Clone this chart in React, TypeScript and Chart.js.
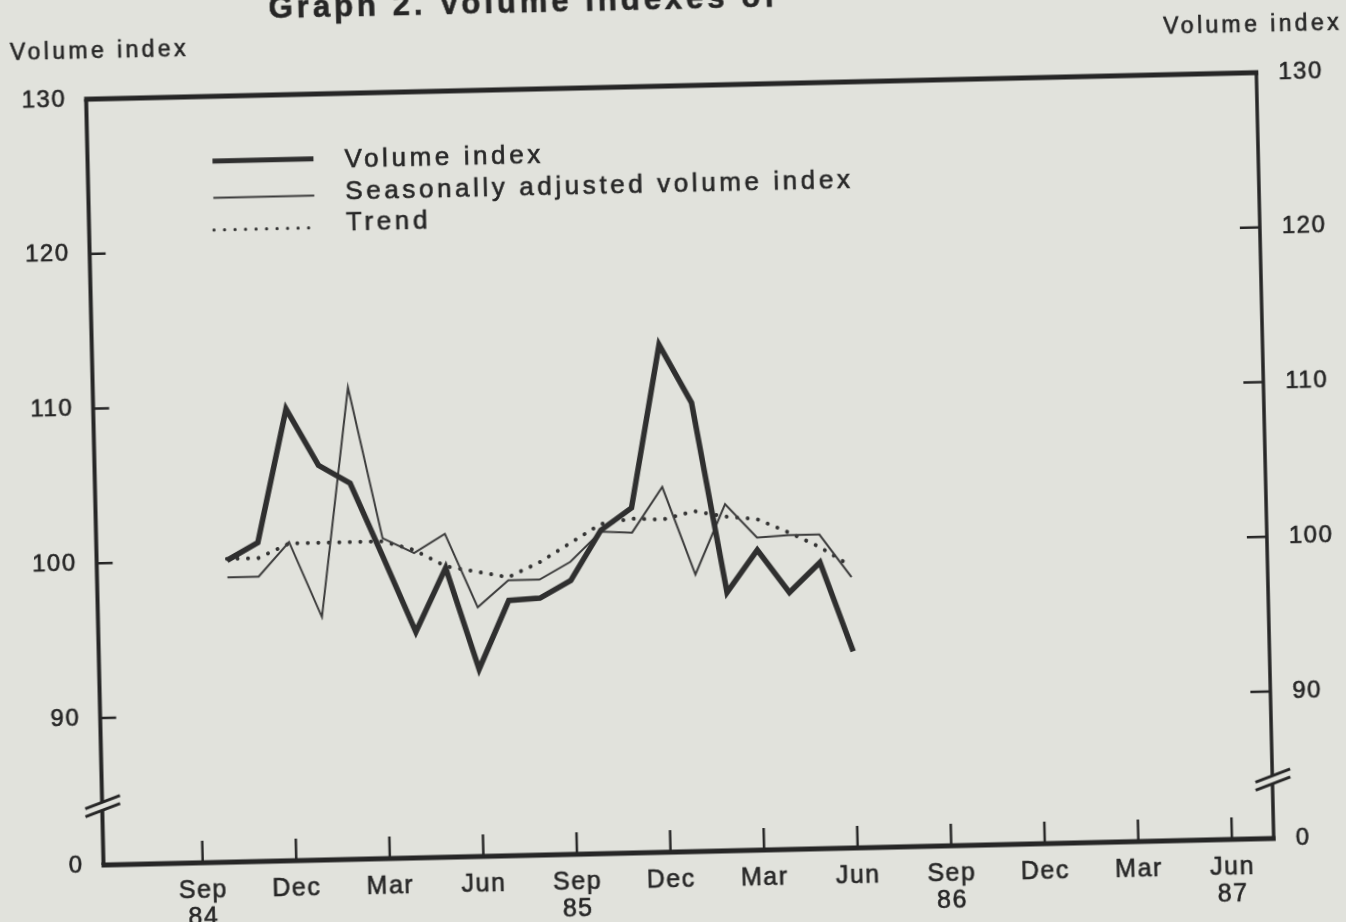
import React, { useEffect, useRef } from 'react';
import { Chart, registerables } from 'chart.js';

Chart.register(...registerables);

// ---- data ----
const months = [
  '1984-10', '1984-11', '1984-12',
  '1985-01', '1985-02', '1985-03', '1985-04', '1985-05', '1985-06',
  '1985-07', '1985-08', '1985-09', '1985-10', '1985-11', '1985-12',
  '1986-01', '1986-02', '1986-03', '1986-04', '1986-05', '1986-06',
];
const volumeIndex = [
  100.0, 101.1, 109.7,
  106.0, 104.8, 100.0, 95.1, 99.2, 92.6,
  97.0, 97.1, 98.2, 101.4, 102.8, 113.3,
  109.5, 97.2, 99.9, 97.1, 99.0, 93.2,
];
const seasonallyAdjusted = [
  98.9, 98.9, 101.1,
  96.2, 111.0, 101.2, 100.2, 101.4, 96.6,
  98.3, 98.3, 99.4, 101.3, 101.2, 104.1,
  98.4, 102.9, 100.7, 100.8, 100.8, 98.0,
];
const trend = [
  100.1, 100.1, 101.0,
  101.0, 101.0, 101.0, 100.4, 99.3, 98.9,
  98.5, 99.4, 100.6, 101.8, 102.1, 102.0,
  102.5, 102.1, 101.9, 101.0, 100.0, 98.7,
];
const seriesNames = ['Volume index', 'Seasonally adjusted volume index', 'Trend'];
const xTickMonths = [
  '1984-09', '1984-12', '1985-03', '1985-06', '1985-09', '1985-12',
  '1986-03', '1986-06', '1986-09', '1986-12', '1987-03', '1987-06',
];
const xTickLabels = [
  ['Sep', '84'], ['Dec'], ['Mar'], ['Jun'], ['Sep', '85'], ['Dec'],
  ['Mar'], ['Jun'], ['Sep', '86'], ['Dec'], ['Mar'], ['Jun', '87'],
];
const yTickValues = [90, 100, 110, 120, 130];
const yZeroLabel = '0';
const titleText = 'Graph 2. Volume indexes of';
const axisTitle = 'Volume index';

// ---- axis geometry (broken axis) ----
const Y_MIN = 80.5; // where the "0" label sits under the break
const Y_MAX = 130;
const Y_BREAK = 84.3;
const X_MIN = 4.82;
const X_MAX = 42.34;

// ---- style ----
const BG = '#e1e2dc';
const INK = '#262626';
const LINE = '#2f2f2f';
const FONT = "'Liberation Sans', Arial, Helvetica, sans-serif";
const OX = 27;
const OY = 29;

const monthIndex = (s: string) =>
  (parseInt(s.slice(0, 4), 10) - 1984) * 12 + parseInt(s.slice(5, 7), 10) - 1;

const toPoints = (vals: number[]) => vals.map((v, i) => ({ x: monthIndex(months[i]), y: v }));

const setSpacing = (ctx: any, s: string) => {
  try { ctx.letterSpacing = s; } catch (e) { /* ignore */ }
};

const spacingPlugin = {
  id: 'spacing',
  beforeDraw(chart: any) { setSpacing(chart.ctx, '1.5px'); },
  afterDraw(chart: any) { setSpacing(chart.ctx, '0px'); },
};

const framePlugin = {
  id: 'frame',
  afterDatasetsDraw(chart: any) {
    const ctx = chart.ctx;
    const { left, right, top, bottom } = chart.chartArea;
    const ys = chart.scales.y;
    const xs = chart.scales.x;
    const yb = ys.getPixelForValue(Y_BREAK);
    ctx.save();
    ctx.strokeStyle = '#262626';
    ctx.lineCap = 'butt';
    // top border
    ctx.lineWidth = 5;
    ctx.beginPath(); ctx.moveTo(left - 2, top); ctx.lineTo(right + 2, top); ctx.stroke();
    // bottom axis
    ctx.beginPath(); ctx.moveTo(left - 2, bottom); ctx.lineTo(right + 2, bottom); ctx.stroke();
    // left axis (broken)
    ctx.lineWidth = 4;
    ctx.beginPath(); ctx.moveTo(left, top); ctx.lineTo(left, yb - 4); ctx.stroke();
    ctx.beginPath(); ctx.moveTo(left, yb + 4); ctx.lineTo(left, bottom); ctx.stroke();
    // right axis (broken)
    ctx.lineWidth = 3.5;
    ctx.beginPath(); ctx.moveTo(right, top); ctx.lineTo(right, yb - 4); ctx.stroke();
    ctx.beginPath(); ctx.moveTo(right, yb + 4); ctx.lineTo(right, bottom); ctx.stroke();
    // y ticks (inside)
    ctx.lineWidth = 2.5;
    yTickValues.forEach((v) => {
      if (v >= Y_MAX) return;
      const py = ys.getPixelForValue(v);
      ctx.beginPath(); ctx.moveTo(left, py); ctx.lineTo(left + 16, py); ctx.stroke();
      ctx.beginPath(); ctx.moveTo(right - 20, py); ctx.lineTo(right, py); ctx.stroke();
    });
    // x ticks (inside, pointing up)
    xTickMonths.forEach((m) => {
      const px = xs.getPixelForValue(monthIndex(m));
      ctx.beginPath(); ctx.moveTo(px, bottom); ctx.lineTo(px, bottom - 22); ctx.stroke();
    });
    // break marks
    ctx.lineWidth = 3;
    [left, right].forEach((xa) => {
      [-4, 4].forEach((off) => {
        ctx.beginPath();
        ctx.moveTo(xa - 17, yb + off + 6.25);
        ctx.lineTo(xa + 18, yb + off - 6.25);
        ctx.stroke();
      });
    });
    ctx.restore();
  },
};

const drawText = (ctx: any, t: string, x: number, y: number) => {
  ctx.strokeText(t, x, y);
  ctx.fillText(t, x, y);
};

const textPlugin = {
  id: 'texts',
  afterDraw(chart: any) {
    const ctx = chart.ctx;
    ctx.save();
    ctx.fillStyle = INK;
    ctx.strokeStyle = INK;
    ctx.lineWidth = 0.6;
    ctx.textAlign = 'left';
    ctx.textBaseline = 'alphabetic';
    // title (cut off at the top edge)
    ctx.font = `bold 31px ${FONT}`;
    setSpacing(ctx, '4px');
    drawText(ctx, titleText, 306, 37.6);
    // axis titles
    ctx.font = `23px ${FONT}`;
    setSpacing(ctx, '3.4px');
    drawText(ctx, axisTitle, 19.5 + OX, 45 + OY);
    drawText(ctx, axisTitle, 1173 + OX, 45 + OY);
    // legend
    const sampleY = [150.7, 187.4, 219.7];
    const textY = [160.4, 192, 223.4];
    ctx.font = `26px ${FONT}`;
    setSpacing(ctx, '3.6px');
    chart.data.datasets.forEach((ds: any, i: number) => {
      ctx.save();
      ctx.strokeStyle = ds.borderColor;
      ctx.lineWidth = ds.legendWidth || ds.borderWidth;
      ctx.lineCap = ds.borderCapStyle || 'butt';
      ctx.setLineDash(ds.borderDash || []);
      ctx.beginPath();
      ctx.moveTo(219.4 + OX, sampleY[i] + OY);
      ctx.lineTo(320.4 + OX, sampleY[i] + OY);
      ctx.stroke();
      ctx.restore();
      drawText(ctx, ds.label, 351.5 + OX, textY[i] + OY);
    });
    ctx.restore();
  },
};

export default function App() {
  const ref = useRef<HTMLCanvasElement>(null);

  useEffect(() => {
    if (!ref.current) return;
    const yAxis = (position: 'left' | 'right', width: number, padding: number) => ({
      type: 'linear' as const,
      position,
      min: Y_MIN,
      max: Y_MAX,
      afterBuildTicks: (s: any) => {
        s.ticks = [Y_MIN, ...yTickValues].map((v) => ({ value: v }));
      },
      afterFit: (s: any) => { s.width = width; },
      grid: { display: false, drawTicks: false },
      border: { display: false },
      ticks: {
        padding,
        color: INK,
        textStrokeColor: INK,
        textStrokeWidth: 0.6,
        font: { size: 24, family: FONT },
        callback: (v: any) => (v === Y_MIN ? yZeroLabel : String(v)),
      },
    });

    const chart = new Chart(ref.current, {
      type: 'line',
      data: {
        datasets: [
          {
            label: seriesNames[0],
            data: toPoints(volumeIndex),
            borderColor: LINE,
            borderWidth: 5.5,
            legendWidth: 5,
            borderJoinStyle: 'miter',
            yAxisID: 'y',
          } as any,
          {
            label: seriesNames[1],
            data: toPoints(seasonallyAdjusted),
            borderColor: '#3c3c3c',
            borderWidth: 2,
            yAxisID: 'y',
          },
          {
            label: seriesNames[2],
            data: toPoints(trend),
            borderColor: '#333333',
            borderWidth: 4,
            legendWidth: 3.2,
            borderDash: [0.01, 10.5],
            borderCapStyle: 'round',
            yAxisID: 'y',
          } as any,
        ],
      },
      options: {
        animation: false,
        responsive: false,
        devicePixelRatio: 1,
        layout: { padding: { top: 115, left: 0, right: 0, bottom: 0 } },
        elements: { point: { radius: 0, hoverRadius: 0 }, line: { tension: 0 } },
        plugins: {
          legend: { display: false },
          tooltip: { enabled: false },
          title: { display: false },
        },
        events: [],
        scales: {
          x: {
            type: 'linear',
            position: 'bottom',
            min: X_MIN,
            max: X_MAX,
            afterBuildTicks: (s: any) => {
              s.ticks = xTickMonths.map((m) => ({ value: monthIndex(m) }));
            },
            afterFit: (s: any) => { s.height = 99; },
            grid: { display: false, drawTicks: false },
            border: { display: false },
            ticks: {
              autoSkip: false,
              maxRotation: 0,
              minRotation: 0,
              padding: 14,
              color: INK,
              textStrokeColor: INK,
              textStrokeWidth: 0.6,
              font: { size: 25, family: FONT, lineHeight: 1.1 },
              callback: (_v: any, i: number) => xTickLabels[i] as any,
            },
          },
          y: yAxis('left', 121.5, 20),
          y2: yAxis('right', 108, 22),
        },
      },
      plugins: [spacingPlugin, framePlugin, textPlugin],
    } as any);
    return () => chart.destroy();
  }, []);

  return (
    <div
      style={{
        position: 'fixed', left: 0, top: 0, width: 1346, height: 922,
        overflow: 'hidden', background: BG,
      }}
    >
      <div
        style={{
          position: 'absolute', left: -OX, top: -OY, width: 1400, height: 980,
          transform: 'rotate(-1.3deg)', transformOrigin: '50% 50%', background: BG,
        }}
      >
        <canvas ref={ref} width={1400} height={980} style={{ display: 'block', width: 1400, height: 980 }} />
      </div>
    </div>
  );
}
